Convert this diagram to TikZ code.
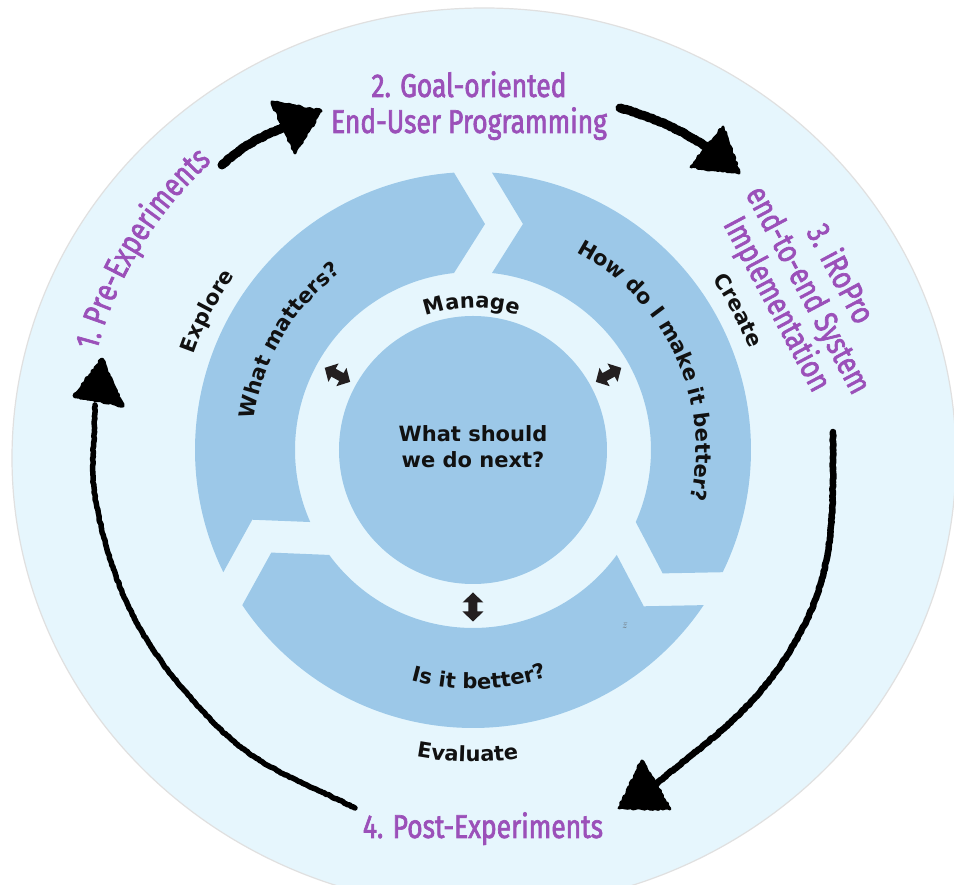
\documentclass[tikz,border=0pt]{standalone}
\usepackage{fontspec}
\newfontfamily\ringfam{DejaVu Sans}
\newfontfamily\handfam[FakeStretch=0.8,FakeBold=2]{Fira Sans}
\usetikzlibrary{decorations.text,decorations.pathmorphing}
\definecolor{bgblue}{HTML}{E6F6FD}
\definecolor{ringblue}{HTML}{9CC8E8}
\definecolor{purp}{RGB}{155,80,185}
\definecolor{dkgray}{HTML}{231F20}
\definecolor{txtblack}{HTML}{111111}
\newcommand\ringtxt{\fontsize{21pt}{26pt}\selectfont\ringfam\bfseries}
\newcommand\handtxt{\fontsize{33pt}{36pt}\selectfont\handfam}
% ring segment: #1 start gap angle, #2 end gap angle (clockwise)
\newcommand\ringseg[2]{%
  \fill[ringblue] ({#1-3.92}:278pt) arc[start angle={#1-3.92}, end angle={#2+3.92}, radius=278pt]
    -- ({#2-3.04}:226.3pt) -- ({#2+6.13}:178pt)
    arc[start angle={#2+6.13}, end angle={#1-6.13}, radius=178pt]
    -- ({#1-12.47}:231.5pt) -- cycle;}
% clockwise text (tops outward): #1 centre angle, #2 radius, #3 half span, #4 font, #5 colour, #6 text
\newcommand\cwtext[6]{%
  \path[decorate,decoration={text along path,text={|#4|#6},text align=center,text color=#5}]
    ({#1+#3}:#2) arc[start angle={#1+#3}, end angle={#1-#3}, radius=#2];}
% counter-clockwise text (tops inward)
\newcommand\ccwtext[6]{%
  \path[decorate,decoration={text along path,text={|#4|#6},text align=center,text color=#5}]
    ({#1-#3}:#2) arc[start angle={#1-#3}, end angle={#1+#3}, radius=#2];}
\begin{document}
\begin{tikzpicture}[x=1pt,y=1pt,
  ringlabel/.style={font=\ringtxt, text=txtblack, inner sep=0pt},
  hand/.style={font=\handtxt, text=purp, inner sep=0pt},
  rough/.style={black, line cap=round, line join=round, decorate,
    decoration={random steps, segment length=2pt, amplitude=0.5pt}},
  roughhead/.style={black, line width=3pt, line join=round, decorate,
    decoration={random steps, segment length=2.5pt, amplitude=1pt}},
  dbl/.pic={\fill[dkgray] (-14.5,0) -- (-4.5,10.5) -- (-4.5,4.5) -- (4.5,4.5) -- (4.5,10.5)
     -- (14.5,0) -- (4.5,-10.5) -- (4.5,-4.5) -- (-4.5,-4.5) -- (-4.5,-10.5) -- cycle;}]
\pgfmathsetseed{7}
\useasboundingbox (-473,-435) rectangle (481,450);
\fill[white] (-473,-435) rectangle (481,450);
% big background disc
\filldraw[fill=bgblue, draw=black!12, line width=1.2pt] (11,-8) ellipse[x radius=472pt, y radius=450pt];
% ring segments
\ringseg{210}{90}
\ringseg{90}{-30}
\ringseg{330}{210}
% centre disc
\fill[ringblue] (0,0) circle[radius=134pt];
\node[ringlabel, align=center] (next) at (0,3) {What should\\we do next?};
% double arrows
\pic[rotate=151] at (151:155pt) {dbl};
\pic[rotate=29] at (29:155pt) {dbl};
\pic[rotate=90] at (270:157pt) {dbl};
% curved ring texts
\cwtext{90.5}{142pt}{60}{\ringtxt}{txtblack}{Manage}
\cwtext{149.3}{221pt}{45}{\ringtxt}{txtblack}{What matters?}
\cwtext{24.8}{223pt}{55}{\ringtxt}{txtblack}{How do I make it better?}
\ccwtext{271.5}{239pt}{40}{\ringtxt}{txtblack}{Is it better?}
\cwtext{152.4}{295pt}{30}{\ringtxt}{txtblack}{Explore}
\cwtext{27.7}{294pt}{30}{\ringtxt}{txtblack}{Create}
\ccwtext{269}{312pt}{30}{\ringtxt}{txtblack}{Evaluate}
\node[text=black!60, font=\fontsize{10pt}{10pt}\selectfont, inner sep=0pt] (zbar) at (152,-176) {$\bar{z}$};
% purple phase labels
\cwtext{148.7}{389pt}{40}{\handtxt}{purp}{1. Pre-Experiments}
\node[hand, anchor=base] (goal1) at (-4,353) {2. Goal-oriented};
\node[hand, anchor=base] (goal2) at (-4,317) {End-User Programming};
\node[hand, anchor=base, rotate=-62] (iro1) at (358,171) {3. iRoPro};
\node[hand, anchor=base, rotate=-62] (iro2) at (326,155) {end-to-end System};
\node[hand, anchor=base, rotate=-62] (iro3) at (295,141) {Implementation};
\node[hand, anchor=base] (post) at (10,-388) {4. Post-Experiments};
% hand-drawn arrows
\coordinate (aS) at (-251,285); \coordinate (aE) at (-189,322.5);
\coordinate (aT) at (-152,339); \coordinate (aL) at (-201,348); \coordinate (aR) at (-178,297);
\draw[rough, line width=9pt] (aS) to[bend left=10] (aE);
\filldraw[roughhead] (aT) -- (aL) -- (aR) -- cycle;
\coordinate (bS) at (147,342); \coordinate (bE) at (234.5,302.5);
\coordinate (bT) at (266,277); \coordinate (bL) at (250,323); \coordinate (bR) at (218,283);
\draw[rough, line width=9pt] (bS) to[bend left=8] (bE);
\filldraw[roughhead] (bT) -- (bL) -- (bR) -- cycle;
\coordinate (cS) at (360,18); \coordinate (c2) at (318,-199); \coordinate (cE) at (182,-335);
\coordinate (cT) at (146,-358); \coordinate (cL) at (169,-311); \coordinate (cR) at (197,-359);
\draw[rough, line width=6.5pt] (cS) to[out=-90, in=58.5] (c2) to[out=238.5, in=40] (cE);
\filldraw[roughhead] (cT) -- (cL) -- (cR) -- cycle;
\coordinate (dS) at (-118,-358); \coordinate (d2) at (-260,-272);
\coordinate (d4) at (-376,-58); \coordinate (dE) at (-378,45);
\coordinate (dT) at (-371,91); \coordinate (dL) at (-399,54); \coordinate (dR) at (-350,44);
\draw[rough, line width=5.5pt] (dS) to[out=153, in=-46.2] (d2) to[out=133.8, in=-78.2] (d4) to[out=101.8, in=-90] (dE);
\filldraw[roughhead] (dT) -- (dL) -- (dR) -- cycle;
\end{tikzpicture}
\end{document}
